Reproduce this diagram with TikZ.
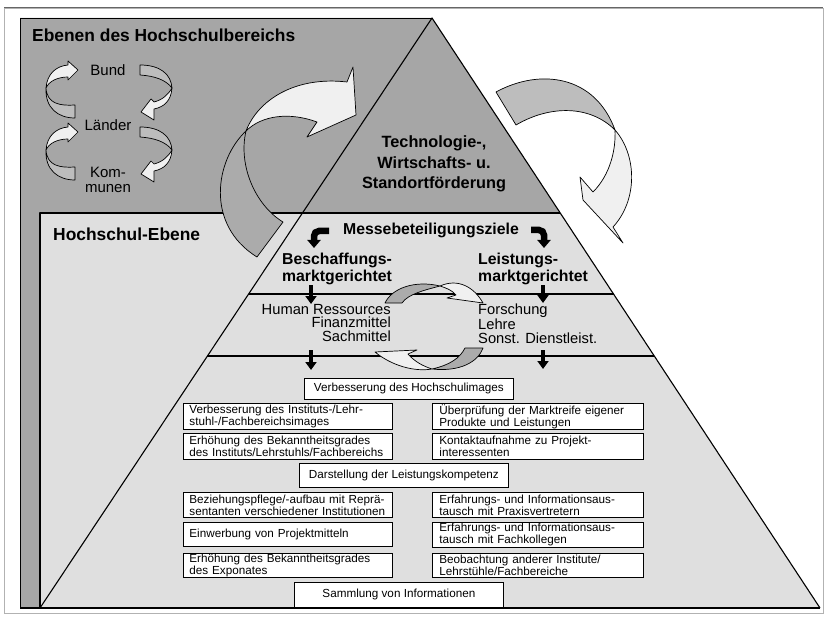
\documentclass[tikz,border=0pt]{standalone}
\usepackage{fontspec}
\setmainfont{Liberation Sans}
\usetikzlibrary{arrows.meta}
\definecolor{darkbg}{HTML}{A6A6A6}
\definecolor{lightbg}{HTML}{DFDFDF}
\definecolor{arfront}{HTML}{F0F0F0}
\definecolor{arback}{HTML}{ABABAB}
\definecolor{arbackl}{HTML}{BDBDBD}
\begin{document}
\begin{tikzpicture}[x=1pt,y=-1pt,
  edge/.style={line width=1.1pt, line join=round},
  ribfront/.style={fill=arfront, draw=black, line width=0.7pt, line join=round},
  ribback/.style={fill=arback, draw=black, line width=0.7pt, line join=round},
  ribbackl/.style={fill=arbackl, draw=black, line width=0.7pt, line join=round},
  box/.style={draw=black, fill=white, line width=0.8pt, anchor=north west,
    minimum width=209pt, inner xsep=6pt, inner ysep=0pt, text width=197pt,
    align=left, font=\fontsize{11.7}{10.3}\selectfont},
  cbox/.style={draw=black, fill=white, line width=0.8pt, anchor=north west,
    minimum width=209pt, inner sep=0pt, align=center,
    font=\fontsize{11.7}{12}\selectfont},
  ttl/.style={inner sep=0pt, font=\bfseries\fontsize{17.4}{20}\selectfont},
  bld/.style={inner sep=0pt, font=\bfseries\fontsize{15.8}{16.5}\selectfont},
  lvl/.style={inner sep=0pt, align=center, font=\fontsize{15}{15.5}\selectfont},
  reg/.style={inner sep=0pt, font=\fontsize{14.7}{14}\selectfont},
  downarrow/.style={line width=4.5pt, -{Triangle[width=11pt,length=8pt]}},
  bentarrow/.style={line width=6.5pt, rounded corners=5pt, -{Triangle[width=13pt,length=8pt]}}
]
\useasboundingbox (0,0) rectangle (826,617);
\fill[white] (0,0) rectangle (826,617);
\draw[gray!60, line width=0.8pt] (4,8) rectangle (823,613);
\draw[gray!80!black, line width=1pt] (4,8) -- (823,8);

% key points
\coordinate (apex) at (432,18);
\coordinate (bl) at (40,608);
\coordinate (br) at (820,608);
\coordinate (hr) at (560.2,213);
\coordinate (hl) at (40,213);
\coordinate (l294) at (248.6,294);
\coordinate (r294) at (613.5,294);
\coordinate (l356) at (207.4,356);
\coordinate (r356) at (654.3,356);

% regions
\fill[darkbg] (20,18) -- (apex) -- (hr) -- (hl) -- (bl) -- (20,608) -- cycle;
\fill[lightbg] (hl) -- (hr) -- (br) -- (bl) -- cycle;
\draw[line width=0.9pt] (20,608) -- (20,18) -- (apex);
\draw[edge] (bl) -- (hl) -- (hr);
\draw[edge] (bl) -- (apex) -- (br);
\draw[edge] (20,608) -- (br);
\draw[edge] (l294) -- (r294);
\draw[edge] (l356) -- (r356);

% small level arrows (left side)
\foreach \dy in {0,62}{
  \begin{scope}[yshift=-\dy pt]
    \draw[ribfront] (46,88) .. controls (47,74) and (56,66) .. (68,65) -- (68,61) -- (78,70)
      -- (68,80) -- (68,77) .. controls (58,77) and (49,81) .. (46,88) -- cycle;
    \draw[ribbackl] (46,88) .. controls (47,104) and (60,106) .. (75,105) -- (75,118)
      .. controls (58,118) and (45,108) .. (46,88) -- cycle;
    \draw[ribbackl] (140,65) .. controls (160,65) and (171,74) .. (172,88)
      .. controls (166,80) and (155,76) .. (140,75) -- cycle;
    \draw[ribfront] (172,88) .. controls (171,101) and (164,107) .. (154,109) -- (154,120)
      -- (141,112) -- (151,99) -- (154,102) .. controls (162,100) and (168,95) .. (172,88) -- cycle;
  \end{scope}
}

% big arrow left
\draw[ribfront] (246,131) .. controls (258,100) and (295,76) .. (347,82) -- (353,67) -- (356,115)
  -- (307,137) -- (317,122) .. controls (290,112) and (262,115) .. (246,131) -- cycle;
\draw[ribback] (246,131) .. controls (215,160) and (205,225) .. (257,257) -- (283,222)
  .. controls (255,205) and (238,165) .. (246,131) -- cycle;

% big arrow right
\draw[ribbackl] (496,92) .. controls (540,68) and (595,75) .. (615,130)
  .. controls (590,105) and (550,105) .. (516,125) -- cycle;
\draw[ribfront] (615,130) .. controls (637,155) and (638,200) .. (613,227) -- (623,243)
  -- (583,200) -- (580,177) -- (593,192) .. controls (610,175) and (616,150) .. (615,130) -- cycle;

% middle circular arrows
\draw[ribback] (385,303) .. controls (392,288) and (415,280) .. (440,286)
  .. controls (425,290) and (408,294) .. (402,303) -- cycle;
\draw[ribfront] (440,286) .. controls (458,278) and (474,287) .. (483,303) -- (447,298) -- (456,295)
  .. controls (452,290) and (446,288) .. (440,286) -- cycle;
\draw[ribback] (483,348) .. controls (478,362) and (460,372) .. (432,369)
  .. controls (450,365) and (460,358) .. (465,348) -- cycle;
\draw[ribfront] (432,369) .. controls (415,372) and (392,366) .. (375,352) -- (417,350) -- (408,354)
  .. controls (415,362) and (423,366) .. (432,369) -- cycle;

% texts
\node[ttl, anchor=base west] (ebenen) at (32,42) {Ebenen des Hochschulbereichs};
\node[ttl, anchor=base west] (hsebene) at (53,241) {Hochschul-Ebene};
\node[lvl] (bund) at (108,70) {Bund};
\node[lvl] (laender) at (108,125) {Länder};
\node[lvl] (kommunen) at (108,180) {Kom-\\munen};
\node[inner sep=0pt, align=center, font=\bfseries\fontsize{16.3}{20.5}\selectfont] (tech) at (434,164)
  {Technologie-,\\Wirtschafts- u.\\Standortförderung};
\node[bld, anchor=base] (messe) at (431,235) {Messebeteiligungsziele};
\node[bld, align=center] (beschaff) at (337,269) {Beschaffungs-\\marktgerichtet};
\node[bld, align=left, anchor=west] (leistung) at (478,269) {Leistungs-\\marktgerichtet};
\node[reg, align=right, anchor=east, font=\fontsize{14.7}{13.5}\selectfont] (human) at (391,323)
  {Human Ressources\\Finanzmittel\\Sachmittel};
\node[reg, align=left, anchor=west, font=\fontsize{14.7}{14.5}\selectfont] (forsch) at (478,324)
  {Forschung\\Lehre\\Sonst. Dienstleist.};

% boxes
\node[cbox, minimum height=21pt] (vhi) at (304,378) {Verbesserung des Hochschulimages};
\node[box, minimum height=26pt] (l1) at (183,403) {Verbesserung des Instituts-/Lehr-\\stuhl-/Fachbereichsimages};
\node[box, minimum height=26pt] (l2) at (183,433) {Erhöhung des Bekanntheitsgrades\\des Instituts/Lehrstuhls/Fachbereichs};
\node[box, minimum height=26pt, minimum width=211pt] (r1) at (432,403) {Überprüfung der Marktreife eigener\\Produkte und Leistungen};
\node[box, minimum height=26pt, minimum width=211pt] (r2) at (432,433) {Kontaktaufnahme zu Projekt-\\interessenten};
\node[cbox, minimum height=24pt] (dl) at (299,463) {Darstellung der Leistungskompetenz};
\node[box, minimum height=25pt] (l3) at (183,492) {Beziehungspflege/-aufbau mit Reprä-\\sentanten verschiedener Institutionen};
\node[box, minimum height=24pt] (l4) at (183,522) {Einwerbung von Projektmitteln};
\node[box, minimum height=24pt] (l5) at (183,553) {Erhöhung des Bekanntheitsgrades\\des Exponates};
\node[box, minimum height=25pt, minimum width=211pt] (r3) at (432,492) {Erfahrungs- und Informationsaus-\\tausch mit Praxisvertretern};
\node[box, minimum height=25pt, minimum width=211pt] (r4) at (432,522) {Erfahrungs- und Informationsaus-\\tausch mit Fachkollegen};
\node[box, minimum height=24pt, minimum width=211pt] (r5) at (432,553) {Beobachtung anderer Institute/\\Lehrstühle/Fachbereiche};
\node[cbox, minimum height=25pt] (si) at (294,582) {Sammlung von Informationen};

% black arrows
\coordinate (ba1s) at (329,231);
\coordinate (ba1m) at (314,231);
\coordinate (ba1e) at (314,248);
\coordinate (ba2s) at (531,230);
\coordinate (ba2m) at (544,230);
\coordinate (ba2e) at (544,248);
\draw[bentarrow] (ba1s) -- (ba1m) -- (ba1e);
\draw[bentarrow] (ba2s) -- (ba2m) -- (ba2e);
\coordinate (d1s) at (311,285); \coordinate (d1e) at (311,304);
\coordinate (d2s) at (311,350); \coordinate (d2e) at (311,370);
\coordinate (d3s) at (543,285); \coordinate (d3e) at (543,303);
\coordinate (d4s) at (543,350); \coordinate (d4e) at (543,369);
\draw[downarrow] (d1s) -- (d1e);
\draw[downarrow] (d2s) -- (d2e);
\draw[downarrow] (d3s) -- (d3e);
\draw[downarrow] (d4s) -- (d4e);
\end{tikzpicture}
\end{document}
